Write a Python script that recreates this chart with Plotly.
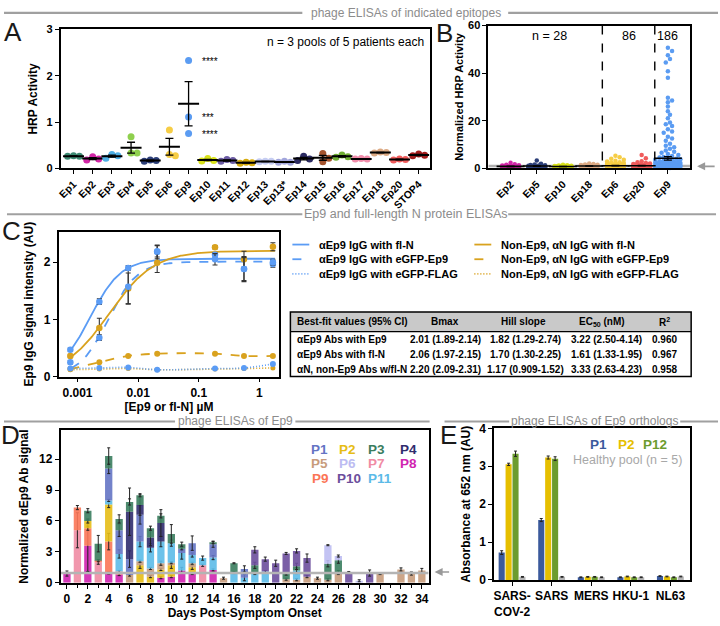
import plotly.graph_objects as go
import numpy as np

W, H = 720, 626
FONT = "Liberation Sans"


def fx(x):
    return x / W


def fy(y):
    return 1 - y / H

# ---------------- Panel A data ----------------
A_CATS = ["Ep1", "Ep2", "Ep3", "Ep4", "Ep5", "Ep6", "Ep9", "Ep10", "Ep11", "Ep12", "Ep13",
          "Ep13*", "Ep14", "Ep15", "Ep16", "Ep17", "Ep18", "Ep20", "STOP4"]
A_VALUES = [[0.27, 0.26, 0.26], [0.25, 0.20, 0.18], [0.30, 0.22, 0.27], [0.68, 0.33, 0.33],
            [0.18, 0.15, 0.17], [0.83, 0.27, 0.30], [2.33, 1.11, 0.75], [0.21, 0.17, 0.16],
            [0.19, 0.17, 0.15], [0.13, 0.11, 0.12], [0.15, 0.14, 0.15], [0.15, 0.13, 0.13],
            [0.26, 0.20, 0.17], [0.32, 0.22, 0.14], [0.29, 0.24, 0.25], [0.21, 0.20, 0.20],
            [0.34, 0.33, 0.35], [0.20, 0.18, 0.19], [0.31, 0.27, 0.28]]
A_COLORS = ["#3d8a72", "#d126a6", "#4fb0e6", "#8fd04e", "#2c3f78", "#f6cd45", "#5b9cf2",
            "#d9e21a", "#6b5ba3", "#d7ab0c", "#c6cdf2", "#a2a6dc", "#2b2a62", "#a5542e",
            "#6fae34", "#f08caa", "#dcaa84", "#f05c5c", "#a31c1c"]
A_STARS = ["****", "***", "****"]

# ---------------- Panel B data ----------------
B_CATS = ["Ep2", "Ep5", "Ep10", "Ep18", "Ep6", "Ep20", "Ep9"]
B_COLORS = ["#d126a6", "#2c3f78", "#d9e21a", "#dcaa84", "#f6cd45", "#f05c5c", "#5b9cf2"]
B_EP2 = [2.3, 1.7, 1.5, 1.3, 1.2, 1.1, 1.0, 1.0, 0.9, 0.9, 0.85, 0.8, 0.8, 0.75, 0.7, 0.7, 0.65,
         0.6, 0.6, 0.55, 0.5, 0.5, 0.45, 0.4, 0.4, 0.35, 0.3, 0.25]
B_EP5 = [3.3, 1.9, 1.6, 1.4, 1.3, 1.2, 1.1, 1.05, 1.0, 0.95, 0.9, 0.9, 0.85, 0.8, 0.8, 0.75, 0.7,
         0.7, 0.65, 0.6, 0.6, 0.55, 0.5, 0.5, 0.45, 0.4, 0.35, 0.3]
B_EP10 = [1.5, 1.3, 1.2, 1.1, 1.0, 1.0, 0.95, 0.9, 0.9, 0.85, 0.8, 0.8, 0.75, 0.75, 0.7, 0.7, 0.65,
          0.6, 0.6, 0.55, 0.5, 0.5, 0.45, 0.4, 0.4, 0.35, 0.3, 0.25]
B_EP18 = [2.0, 1.8, 1.6, 1.5, 1.4, 1.3, 1.2, 1.15, 1.1, 1.05, 1.0, 1.0, 0.95, 0.9, 0.9, 0.85, 0.8,
          0.8, 0.75, 0.7, 0.7, 0.65, 0.6, 0.55, 0.5, 0.45, 0.4, 0.35]
B_EP6 = [5.3, 4.6, 4.0, 3.6, 3.2, 2.9, 2.6, 2.4, 2.2, 2.0, 1.9, 1.8, 1.7, 1.6, 1.5, 1.45, 1.4,
         1.35, 1.3, 1.25, 1.2, 1.15, 1.1, 1.05, 1.0, 1.0, 0.95, 0.9, 0.9, 0.85, 0.8, 0.8, 0.75,
         0.7, 0.7, 0.65, 0.6, 0.55, 0.5, 0.45, 0.4, 0.35]
B_EP20 = [5.6, 4.2, 3.0, 2.5, 2.2, 2.0, 1.8, 1.7, 1.6, 1.5, 1.4, 1.35, 1.3, 1.25, 1.2, 1.15, 1.1,
          1.05, 1.0, 1.0, 0.95, 0.9, 0.9, 0.85, 0.8, 0.8, 0.75, 0.7, 0.7, 0.65, 0.6, 0.55, 0.5,
          0.45, 0.4, 0.35]
B_EP9 = [50.7, 49.3, 47.5, 45.9, 44.5, 40.8, 38.1, 29.7, 28.5, 27.8, 26.0, 24.0, 22.5, 21.0,
         19.3, 18.5, 17.8, 16.4, 15.5, 15.0, 13.3, 12.5, 11.6, 10.3, 9.5, 8.9, 8.2, 7.5, 7.0,
         6.5, 6.0, 5.6, 5.2, 4.8, 4.5, 4.2, 4.0, 3.8, 3.6, 3.4, 3.2, 3.0, 2.9, 2.8, 2.7, 2.6,
         2.5, 2.4, 2.3, 2.2, 2.1, 2.0, 1.9, 1.8, 1.75, 1.7, 1.6, 1.55, 1.5, 1.45, 1.4, 1.35, 1.3,
         1.25, 1.2, 1.15, 1.1, 1.05, 1.0, 0.95, 0.9, 0.85, 0.8, 0.75, 0.7, 0.65, 0.6, 0.55, 0.5,
         0.45, 0.4, 0.35, 0.3, 0.25, 0.2, 0.15]
B_MEANS = [0.8, 0.95, 0.75, 1.0, 1.1, 1.1, 4.2]
B_SEMS = [0.1, 0.12, 0.06, 0.08, 0.1, 0.12, 0.75]
B_N = ["n = 28", "86", "186"]
B_THRESHOLD = 1.0

# ---------------- Panel C data ----------------
C_CONC = [0.000762, 0.00229, 0.00686, 0.0206, 0.185, 0.556, 1.667]
C_AEP9_FLN = [0.47, 1.31, 1.90, 2.19, 2.05, 1.88, 2.00]
C_AEP9_FLN_ERR = [0.03, 0.05, 0.04, 0.10, 0.10, 0.22, 0.05]
C_AEP9_EGFPEP9 = [0.25, 0.68, 1.57, 2.18, 2.13, 1.88, 1.97]
C_AEP9_EGFPEP9_ERR = [0.03, 0.05, 0.30, 0.12, 0.04, 0.20, 0.06]
C_AEP9_FLAG = [0.14, 0.15, 0.16, 0.12, 0.14, 0.15, 0.22]
C_NON_FLN = [0.36, 0.85, 1.54, 1.99, 2.26, 2.05, 2.27]
C_NON_FLN_ERR = [0.03, 0.17, 0.27, 0.17, 0.03, 0.14, 0.07]
C_NON_EGFPEP9 = [0.13, 0.25, 0.36, 0.40, 0.40, 0.36, 0.36]
C_NON_FLAG = [0.12, 0.13, 0.14, 0.12, 0.13, 0.14, 0.15]
# best-fit table (Bmax, Hill slope, EC50 nM)
T_ROWS = ["αEp9 Abs with Ep9", "αEp9 Abs with fl-N", "αN, non-Ep9 Abs w/fl-N"]
T_BMAX = [2.01, 2.06, 2.20]
T_BMAX_CI = ["1.89-2.14", "1.97-2.15", "2.09-2.31"]
T_HILL = [1.82, 1.70, 1.17]
T_HILL_CI = ["1.29-2.74", "1.30-2.25", "0.909-1.52"]
T_EC50 = [3.22, 1.61, 3.33]
T_EC50_CI = ["2.50-4.14", "1.33-1.95", "2.63-4.23"]
T_R2 = ["0.960", "0.967", "0.958"]

# ---------------- Panel D data (day: (value, sem)) ----------------
D_P1 = {4: (3.1, 0.5), 5: (2.3, 0.6), 6: (1.55, 0.8), 7: (2.6, 0.9), 11: (0.4, 0.1),
        12: (1.15, 0.7), 14: (1.3, 0.3), 17: (0.85, 0.3)}
D_P2 = {2: (0.7, 0.2), 4: (3.6, 0.3), 7: (1.7, 0.3), 8: (0.6, 0.1), 9: (0.8, 0.1), 10: (1.1, 0.3),
        12: (0.6, 0.2)}
D_P3 = {2: (1.0, 0.2), 3: (1.65, 0.8), 4: (1.2, 0.8), 5: (1.1, 0.4), 6: (0.95, 0.3),
        7: (0.95, 0.15), 8: (0.9, 0.2), 9: (0.7, 0.2), 10: (0.9, 0.9), 11: (0.45, 0.2),
        14: (0.15, 0.1), 16: (0.9, 0.05), 18: (0.8, 0.3), 21: (0.5, 0.1), 22: (0.4, 0.3),
        25: (1.55, 0.3), 26: (1.2, 0.3)}
D_P4 = {6: (4.6, 2.3), 7: (0.95, 1.0), 8: (1.0, 0.8), 9: (1.8, 1.3)}
D_P5 = {6: (0.75, 0.1), 7: (0.4, 0.1), 8: (0.8, 0.1), 9: (0.6, 0.2), 10: (0.25, 0.1),
        12: (0.4, 0.1), 15: (0.45, 0.1), 21: (0.35, 0.1), 22: (0.3, 0.1), 23: (0.6, 0.1),
        24: (0.45, 0.1), 25: (0.3, 0.1), 26: (1.0, 0.2), 30: (0.9, 0.1), 32: (1.3, 0.15),
        33: (0.9, 0.15), 34: (1.2, 0.2)}
D_P6 = {25: (1.8, 0.05), 26: (0.4, 0.1), 28: (0.2, 0.1)}
D_P7 = {1: (5.1, 1.7), 3: (2.0, 0.2), 13: (1.7, 0.1)}
D_P8 = {0: (0.9, 0.25), 2: (3.6, 2.5), 4: (0.95, 0.1), 5: (0.8, 0.1), 9: (0.5, 0.1),
        10: (0.6, 0.1), 11: (1.2, 0.3), 12: (0.9, 0.1), 14: (1.25, 0.1)}
D_P9 = {1: (2.2, 0.2), 2: (1.7, 0.2), 3: (0.15, 0.1), 4: (3.05, 0.8), 5: (0.3, 0.1)}
D_P10 = {18: (1.5, 0.3), 19: (1.2, 0.2), 20: (1.9, 0.3), 21: (2.0, 0.1), 22: (1.5, 0.2),
         23: (1.8, 0.4), 27: (1.05, 0.05), 29: (0.95, 0.3)}
D_P11 = {4: (0.4, 0.1), 5: (1.7, 0.4), 7: (1.9, 0.5), 8: (2.0, 0.4), 9: (2.1, 0.5),
         10: (1.9, 0.3), 11: (1.7, 0.6), 12: (0.8, 0.2), 13: (0.7, 0.2), 14: (1.2, 0.2),
         16: (1.0, 0.1), 17: (0.5, 0.3), 18: (0.9, 0.1), 19: (1.1, 0.1), 22: (0.9, 0.3)}
D_STACK_ORDER = ["P8", "P7", "P9", "P2", "P5", "P11", "P1", "P4", "P3", "P10", "P6"]
D_COLORS = {"P1": "#6474c4", "P2": "#e6bd16", "P3": "#3a7d5e", "P4": "#302c6e",
            "P5": "#c89c7c", "P6": "#bcbcf2", "P7": "#f08ca4", "P8": "#d024b0",
            "P9": "#fb7556", "P10": "#6c4e9c", "P11": "#5cbbe8"}
D_THRESHOLD = 0.95

# ---------------- Panel E data ----------------
E_CATS = ["SARS-<br>COV-2", "SARS", "MERS", "HKU-1", "NL63"]
E_P1 = [0.72, 1.58, 0.07, 0.07, 0.10]
E_P2 = [3.05, 3.23, 0.08, 0.09, 0.09]
E_P12 = [3.33, 3.20, 0.08, 0.07, 0.07]
E_HEALTHY = [0.08, 0.08, 0.07, 0.07, 0.09]
E_P1_ERR = [0.05, 0.04, 0.01, 0.01, 0.01]
E_P2_ERR = [0.03, 0.04, 0.01, 0.01, 0.01]
E_P12_ERR = [0.07, 0.05, 0.01, 0.01, 0.01]
E_HEALTHY_ERR = [0.01, 0.01, 0.01, 0.01, 0.01]
E_COLORS = ["#3b5a9c", "#e6bf00", "#6c9c2e", "#b4b4b4"]

# ---------------- geometry (pixels) ----------------
BOX = {
    "A": (57, 428, 23, 165),
    "B": (487, 690, 19, 165),
    "C": (55, 277, 230, 378),
    "D": (57, 427, 433, 589),
    "E": (493, 690, 431, 586),
}
A_XR = [-0.67, 18.57]
A_YR = [0, 3]
B_XR = [-0.85, 6.85]
B_YR = [0, 60]
C_XR = [-3.31, 0.33]
C_YR = [0, 2.53]
D_XR = [-0.6, 34.65]
D_YR = [0, 14.8]
E_XR = [-0.45, 4.5]
E_YR = [0, 4.0]


def swarm(values, ppu_x, ppu_y, d, max_half):
    """simple beeswarm: pixel offsets -> axis units"""
    step = d * 0.5
    cands = [0.0]
    k = 1
    while k * step <= max_half + 1e-9:
        cands += [k * step, -k * step]
        k += 1
    placed = []
    offs = [0.0] * len(values)
    for i in sorted(range(len(values)), key=lambda j: -values[j]):
        y = values[i] * ppu_y
        best, bestd, best_c = None, -1, 0.0
        for c in cands:
            md = min([np.hypot(c - a, y - b) for a, b in placed] or [1e9])
            if md >= d:
                best = c
                break
            if md > bestd:
                bestd, best_c = md, c
        if best is None:
            best = best_c
        placed.append((best, y))
        offs[i] = best / ppu_x
    return offs


fig = go.Figure()

tick_font = dict(family=FONT, size=11, color="black", weight="bold")
title_font = dict(family=FONT, size=12, color="black", weight="bold")


def ax_common(**kw):
    base = dict(showline=True, linecolor="black", linewidth=1.6, mirror=True, ticks="outside",
                ticklen=4, tickwidth=1.4, tickcolor="black", showgrid=False, zeroline=False,
                tickfont=tick_font, title_font=title_font)
    base.update(kw)
    return base


# ---- Panel A traces
ax_ppx = (BOX["A"][1] - BOX["A"][0]) / (A_XR[1] - A_XR[0])
ax_ppy = (BOX["A"][3] - BOX["A"][2]) / (A_YR[1] - A_YR[0])
for i, (vals, col) in enumerate(zip(A_VALUES, A_COLORS)):
    offs = swarm(vals, ax_ppx, ax_ppy, 6.0, 6)
    fig.add_trace(go.Scatter(x=[i + o for o in offs], y=vals, mode="markers",
                             marker=dict(color=col, size=7), xaxis="x", yaxis="y",
                             showlegend=False, cliponaxis=False))
    m = float(np.mean(vals))
    sem = float(np.std(vals, ddof=1) / np.sqrt(len(vals)))
    fig.add_trace(go.Scatter(x=[i], y=[m], mode="markers",
                             marker=dict(symbol="line-ew", size=15, line=dict(color="black", width=2)),
                             error_y=dict(type="data", array=[sem], color="black", thickness=1.3, width=4),
                             xaxis="x", yaxis="y", showlegend=False))

# ---- Panel B traces
b_ppx = (BOX["B"][1] - BOX["B"][0]) / (B_XR[1] - B_XR[0])
b_ppy = (BOX["B"][3] - BOX["B"][2]) / (B_YR[1] - B_YR[0])
fig.add_trace(go.Scatter(x=[B_XR[0], B_XR[1]], y=[B_THRESHOLD, B_THRESHOLD], mode="lines",
                         line=dict(color="#b0b0b0", width=2.5), xaxis="x2", yaxis="y2",
                         showlegend=False, hoverinfo="skip"))
B_ALL = [B_EP2, B_EP5, B_EP10, B_EP18, B_EP6, B_EP20, B_EP9]
for i, (vals, col) in enumerate(zip(B_ALL, B_COLORS)):
    offs = swarm(vals, b_ppx, b_ppy, 4.2, 14 if i == 6 else 10)
    fig.add_trace(go.Scatter(x=[i + o for o in offs], y=vals, mode="markers",
                             marker=dict(color=col, size=4.5), xaxis="x2", yaxis="y2",
                             showlegend=False, cliponaxis=False))
fig.add_trace(go.Scatter(x=list(range(7)), y=B_MEANS, mode="markers",
                         marker=dict(symbol="line-ew", size=20, line=dict(color="black", width=1.6)),
                         error_y=dict(type="data", array=B_SEMS, color="black", thickness=1.2, width=4),
                         xaxis="x2", yaxis="y2", showlegend=False))

# ---- Panel C traces
BLUE = "#5b9cf5"
GOLD = "#d9a21e"
xfit = np.logspace(C_XR[0] + 0.21, np.log10(1.8), 200)


def hill(x, bmax, h, ec50_nm):
    ec = ec50_nm / 1000.0
    return bmax * x ** h / (x ** h + ec ** h)


fits = [(T_BMAX[1], T_HILL[1], T_EC50[1], BLUE, "solid"),
        (T_BMAX[0], T_HILL[0], T_EC50[0], BLUE, "dash"),
        (T_BMAX[2], T_HILL[2], T_EC50[2], GOLD, "solid")]
for bm, h, ec, col, dash in fits:
    fig.add_trace(go.Scatter(x=xfit, y=hill(xfit, bm, h, ec), mode="lines",
                             line=dict(color=col, width=1.8, dash=dash), xaxis="x3", yaxis="y3",
                             showlegend=False, hoverinfo="skip"))
fig.add_trace(go.Scatter(x=C_CONC, y=C_NON_EGFPEP9, mode="lines+markers", line_shape="spline",
                         line=dict(color=GOLD, width=1.8, dash="dash"), marker=dict(color=GOLD, size=6),
                         error_y=dict(type="data", array=[0.02] * 7, color="#333", thickness=1, width=2),
                         xaxis="x3", yaxis="y3", showlegend=False))
fig.add_trace(go.Scatter(x=C_CONC, y=C_NON_FLAG, mode="lines+markers", line_shape="spline",
                         line=dict(color=GOLD, width=1.6, dash="1px,2px"), marker=dict(color=GOLD, size=5),
                         xaxis="x3", yaxis="y3", showlegend=False))
fig.add_trace(go.Scatter(x=C_CONC, y=C_AEP9_FLAG, mode="lines+markers", line_shape="spline",
                         line=dict(color=BLUE, width=1.6, dash="1px,2px"), marker=dict(color=BLUE, size=6),
                         xaxis="x3", yaxis="y3", showlegend=False))
for ys, err, col in [(C_NON_FLN, C_NON_FLN_ERR, GOLD), (C_AEP9_EGFPEP9, C_AEP9_EGFPEP9_ERR, BLUE),
                     (C_AEP9_FLN, C_AEP9_FLN_ERR, BLUE)]:
    fig.add_trace(go.Scatter(x=C_CONC, y=ys, mode="markers", marker=dict(color=col, size=6.5),
                             error_y=dict(type="data", array=err, color="#333", thickness=1.1, width=2.5),
                             xaxis="x3", yaxis="y3", showlegend=False))

# ---- Panel D traces (stacked via explicit base)
D_SERIES = {"P1": D_P1, "P2": D_P2, "P3": D_P3, "P4": D_P4, "P5": D_P5, "P6": D_P6,
            "P7": D_P7, "P8": D_P8, "P9": D_P9, "P10": D_P10, "P11": D_P11}
cum = {}
for p in D_STACK_ORDER:
    d = D_SERIES[p]
    days = sorted(d)
    vals = [d[k][0] for k in days]
    errs = [d[k][1] for k in days]
    bases = [cum.get(k, 0.0) for k in days]
    for k, v in zip(days, vals):
        cum[k] = cum.get(k, 0.0) + v
    fig.add_trace(go.Bar(x=days, y=vals, base=bases, width=0.7, offsetgroup="d",
                         marker=dict(color=D_COLORS[p], line=dict(width=0), opacity=0.9),
                         error_y=dict(type="data", array=errs, color="#222", thickness=1, width=1.5),
                         xaxis="x4", yaxis="y4", showlegend=False))
fig.add_trace(go.Scatter(x=[D_XR[0], D_XR[1]], y=[D_THRESHOLD, D_THRESHOLD], mode="lines",
                         line=dict(color="#b4b4b4", width=2.5), xaxis="x4", yaxis="y4",
                         showlegend=False, hoverinfo="skip"))

# ---- Panel E traces
for ys, err, col in zip([E_P1, E_P2, E_P12, E_HEALTHY],
                        [E_P1_ERR, E_P2_ERR, E_P12_ERR, E_HEALTHY_ERR], E_COLORS):
    fig.add_trace(go.Bar(x=list(range(5)), y=ys, marker=dict(color=col, line=dict(width=0)),
                         error_y=dict(type="data", array=err, color="#222", thickness=1, width=1.5),
                         xaxis="x5", yaxis="y5", showlegend=False))


def dom(key):
    x0, x1, y0, y1 = BOX[key]
    return [fx(x0), fx(x1)], [fy(y1), fy(y0)]


ad, ayd = dom("A")
bd, byd = dom("B")
cd, cyd = dom("C")
dd, dyd = dom("D")
ed, eyd = dom("E")

fig.update_layout(
    width=W, height=H, margin=dict(l=0, r=0, t=0, b=0),
    paper_bgcolor="white", plot_bgcolor="white",
    font=dict(family=FONT, color="black"),
    barmode="group", bargap=0.3, bargroupgap=0.12,
    xaxis=ax_common(domain=ad, range=A_XR, tickvals=list(range(len(A_CATS))), ticktext=A_CATS,
                    tickangle=-45, tickfont=dict(family=FONT, size=10.5, color="black", weight="bold"),
                    anchor="y"),
    yaxis=ax_common(domain=ayd, range=A_YR, tickvals=[0, 1, 2, 3], anchor="x",
                    title=dict(text="HRP Activity", standoff=6)),
    xaxis2=ax_common(domain=bd, range=B_XR, tickvals=list(range(7)), ticktext=B_CATS,
                     tickangle=-45, tickfont=dict(family=FONT, size=10.5, color="black", weight="bold"),
                     anchor="y2"),
    yaxis2=ax_common(domain=byd, range=B_YR, tickvals=[0, 20, 40, 60], anchor="x2",
                     title=dict(text="Normalized HRP Activity", standoff=2,
                                font=dict(family=FONT, size=11, color="black", weight="bold"))),
    xaxis3=ax_common(domain=cd, range=C_XR, type="log", tickvals=[0.001, 0.01, 0.1, 1],
                     ticktext=["0.001", "0.01", "0.1", "1"], anchor="y3",
                     tickfont=dict(family=FONT, size=12, color="black", weight="bold"),
                     title=dict(text="[Ep9 or fl-N] µM", standoff=4)),
    yaxis3=ax_common(domain=cyd, range=C_YR, tickvals=[0, 1, 2], anchor="x3",
                     tickfont=dict(family=FONT, size=12, color="black", weight="bold"),
                     title=dict(text="Ep9 IgG signal intensity (AU)", standoff=8)),
    xaxis4=ax_common(domain=dd, range=D_XR, tickvals=list(range(0, 35, 2)), anchor="y4",
                     tickfont=dict(family=FONT, size=12, color="black", weight="bold"),
                     minor=dict(tickvals=list(range(1, 35, 2)), ticks="outside", ticklen=3,
                                tickwidth=1.2, tickcolor="black"),
                     title=dict(text="Days Post-Symptom Onset", standoff=4)),
    yaxis4=ax_common(domain=dyd, range=D_YR, tickvals=[0, 3, 6, 9, 12], anchor="x4",
                     tickfont=dict(family=FONT, size=12, color="black", weight="bold"),
                     title=dict(text="Normalized αEp9 Ab signal", standoff=8)),
    xaxis5=ax_common(domain=ed, range=E_XR, tickvals=list(range(5)), ticktext=E_CATS,
                     anchor="y5", tickfont=dict(family=FONT, size=12, color="black", weight="bold")),
    yaxis5=ax_common(domain=eyd, range=E_YR, tickvals=[0, 1, 2, 3, 4], anchor="x5",
                     tickfont=dict(family=FONT, size=12, color="black", weight="bold"),
                     title=dict(text="Absorbance at 652 nm (AU)", standoff=6)),
)

ann = []
shapes = []


def text(x, y, t, size=12, color="black", anchor="center", bold=False, yanchor="middle"):
    ann.append(dict(x=fx(x), y=fy(y), xref="paper", yref="paper", text=t, showarrow=False,
                    xanchor=anchor, yanchor=yanchor,
                    font=dict(family=FONT, size=size, color=color, weight="bold" if bold else "normal")))


def hline(x0, x1, y, color="#a0a0a0", width=2.2, dash="solid"):
    shapes.append(dict(type="line", xref="paper", yref="paper", x0=fx(x0), x1=fx(x1), y0=fy(y),
                       y1=fy(y), line=dict(color=color, width=width, dash=dash)))


GRAY = "#8c8c8c"
# section headers
hline(0, 300, 6)
text(404, 6, "phage ELISAs of indicated epitopes", 12, GRAY)
hline(507, 718, 6)
hline(3, 300, 212)
text(404, 212, "Ep9 and full-length N protein ELISAs", 12.5, GRAY)
hline(507, 716, 212)
hline(0, 172, 424)
text(233, 423, "phage ELISAs of Ep9", 12, GRAY)
hline(293, 428, 424)
hline(443, 508, 424)
text(594, 423, "phage ELISAs of Ep9 orthologs", 12, GRAY)
hline(680, 718, 424)

# panel letters
for lab, x, y in [("A", 9, 26), ("B", 443, 27), ("C", 8, 229), ("D", 7, 438), ("E", 447, 438)]:
    text(x, y, lab, 26, "#1a1a1a")

# panel A annotations
text(428 - 4, 36, "n = 3 pools of 5 patients each", 12, anchor="right")
for s, yv in zip(A_STARS, A_VALUES[6]):
    text(197, BOX["A"][3] - yv * ax_ppy + 1, s, 10, anchor="left")

# panel B annotations
for xv in [3.5, 5.5]:
    xp = BOX["B"][0] + (xv - B_XR[0]) * b_ppx
    shapes.append(dict(type="line", xref="paper", yref="paper", x0=fx(xp), x1=fx(xp),
                       y0=fy(BOX["B"][2]), y1=fy(BOX["B"][3]),
                       line=dict(color="black", width=1.4, dash="dash")))
for t, xv in zip(B_N, [1.5, 4.5, 6.0]):
    text(BOX["B"][0] + (xv - B_XR[0]) * b_ppx, 30, t, 12.5)
ann.append(dict(x=fx(697), y=fy(163), xref="paper", yref="paper", ax=19, ay=0, text="",
                showarrow=True, arrowhead=2, arrowsize=1, arrowwidth=1.6, arrowcolor="#999"))
ann.append(dict(x=fx(433), y=fy(578), xref="paper", yref="paper", ax=16, ay=0, text="",
                showarrow=True, arrowhead=2, arrowsize=1, arrowwidth=1.6, arrowcolor="#999"))

# panel C legend
LEG = [("αEp9 IgG with fl-N", BLUE, "solid"), ("αEp9 IgG with eGFP-Ep9", BLUE, "dash"),
       ("αEp9 IgG with eGFP-FLAG", BLUE, "1px,2px"), ("Non-Ep9, αN IgG with fl-N", GOLD, "solid"),
       ("Non-Ep9, αN IgG with eGFP-Ep9", GOLD, "dash"), ("Non-Ep9, αN IgG with eGFP-FLAG", GOLD, "1px,2px")]
for k, (t, col, dash) in enumerate(LEG):
    colx = 290 if k < 3 else 473
    y = 243 + (k % 3) * 15
    hline(colx, colx + 17, y, col, 1.8, dash)
    text(colx + 25, y, t, 11, anchor="left", bold=True)

# panel C table
TX0, TX1, TY0, TY1, THY = 288, 691, 312, 378, 332
shapes.append(dict(type="rect", xref="paper", yref="paper", x0=fx(TX0), x1=fx(TX1), y0=fy(THY),
                   y1=fy(TY0), fillcolor="#c9c9c9", line=dict(width=0), layer="below"))
shapes.append(dict(type="rect", xref="paper", yref="paper", x0=fx(TX0), x1=fx(TX1), y0=fy(TY1),
                   y1=fy(TY0), line=dict(color="black", width=1.5)))
hline(TX0, TX1, THY, "black", 1.2)
text(293, 322, "Best-fit values (95% CI)", 10, anchor="left", bold=True)
text(443, 322, "Bmax", 10, bold=True)
text(522, 322, "Hill slope", 10, bold=True)
text(601, 322, "EC<sub>50</sub> (nM)", 10, bold=True)
text(664, 322, "R<sup>2</sup>", 10, bold=True)
for r in range(3):
    y = 340 + r * 15.3
    text(293, y, T_ROWS[r], 10, anchor="left", bold=True)
    text(444, y, f"{T_BMAX[r]:.2f} ({T_BMAX_CI[r]})", 10, bold=True)
    text(524, y, f"{T_HILL[r]:.2f} ({T_HILL_CI[r]})", 10, bold=True)
    text(606, y, f"{T_EC50[r]:.2f} ({T_EC50_CI[r]})", 10, bold=True)
    text(664, y, T_R2[r], 10, bold=True)

# panel D legend
D_LEG_POS = {"P1": (317, 453), "P2": (345, 453), "P3": (375, 453), "P4": (407, 453),
             "P5": (317, 467), "P6": (345, 467), "P7": (375, 467), "P8": (407, 467),
             "P9": (318, 482), "P10": (347, 482), "P11": (378, 482)}
for p, (x, y) in D_LEG_POS.items():
    text(x, y, p, 13.5, D_COLORS[p], bold=True)

# panel E legend
for t, x, col in zip(["P1", "P2", "P12"], [598, 626, 655], E_COLORS[:3]):
    text(x, 448, t, 13.5, col, bold=True)
text(627, 463, "Healthy pool (n = 5)", 12.5, "#a8a8a8")

fig.update_layout(annotations=ann, shapes=shapes)
fig.write_html("out.html", config={"displayModeBar": False},
               post_script="document.body.style.margin='0';")
